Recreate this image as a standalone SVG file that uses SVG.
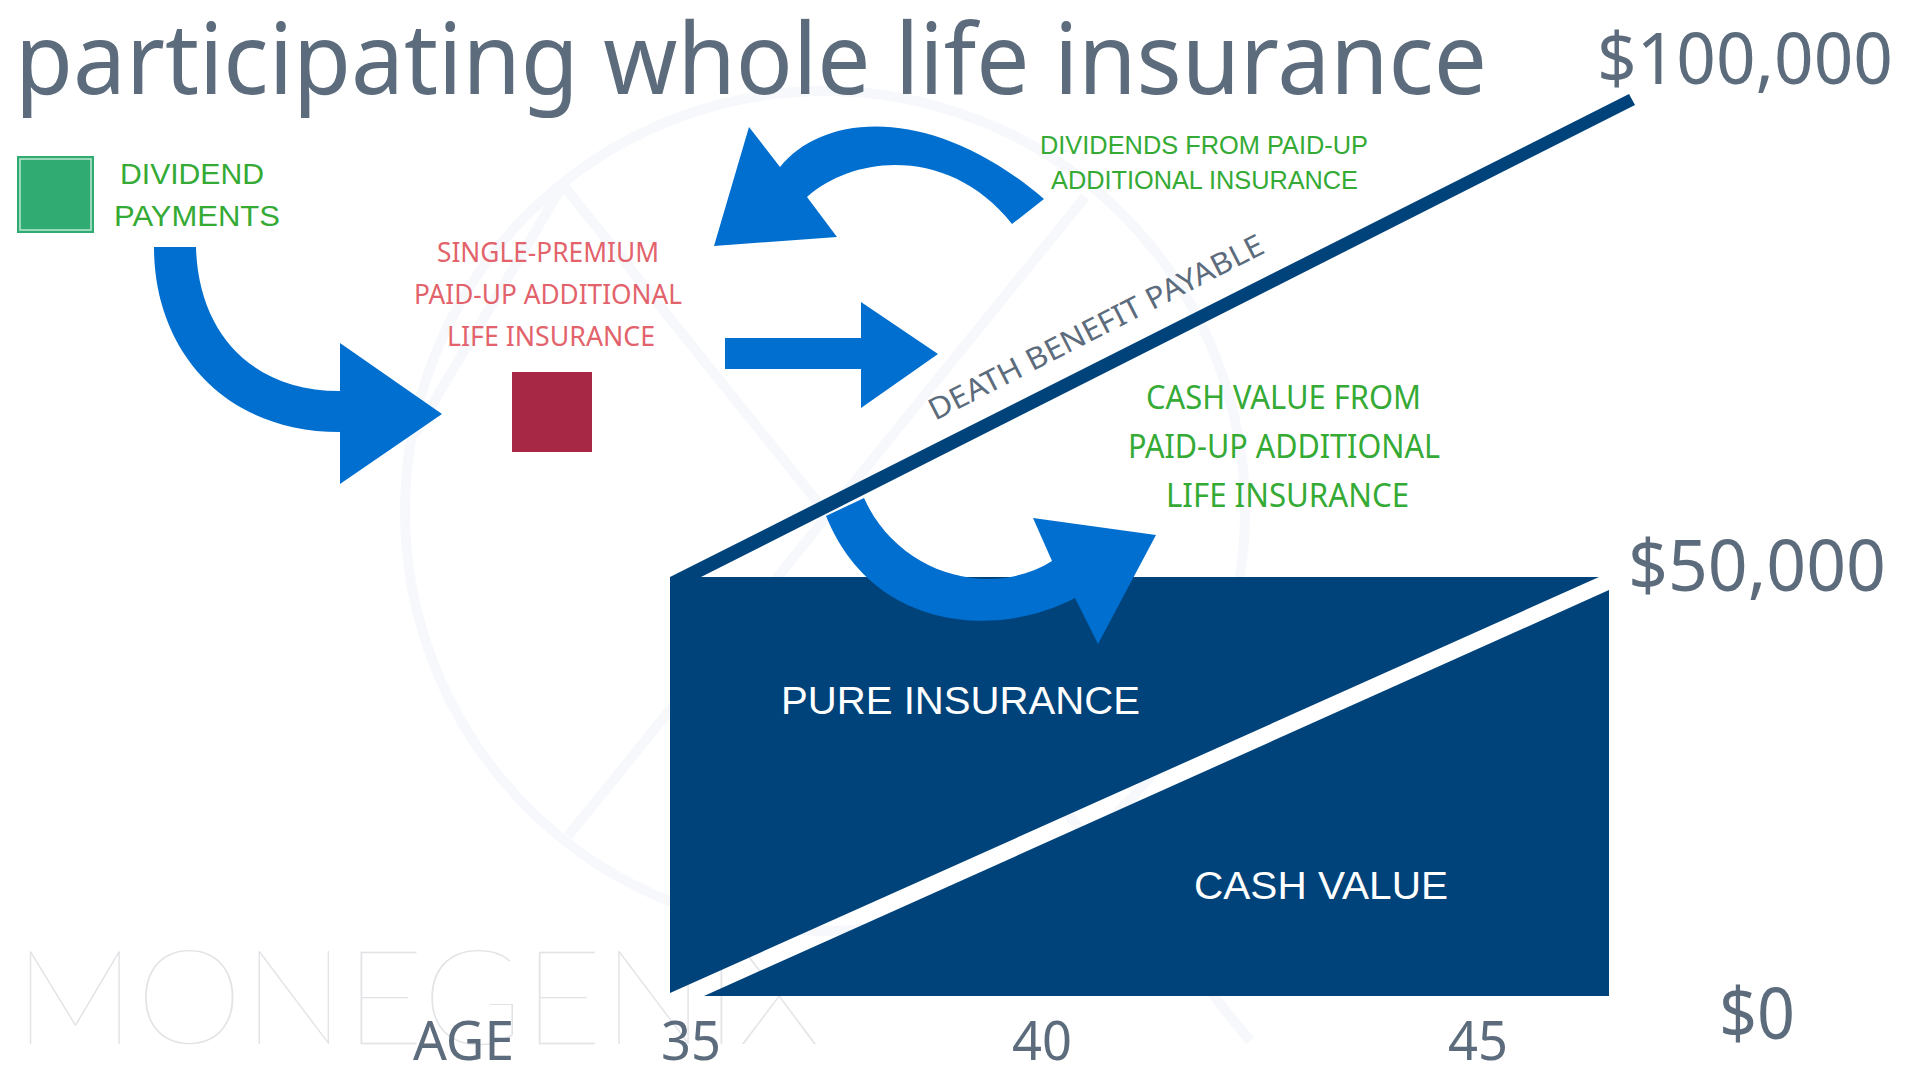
<svg xmlns="http://www.w3.org/2000/svg" width="1920" height="1080" viewBox="0 0 1920 1080">
<style>
.wm{fill:none;stroke:#f6f8fc;stroke-width:10}
.gray{font-family:"Noto Sans","Liberation Sans",sans-serif;font-weight:400;fill:#5c6c7c}
.arial{font-family:"Liberation Sans",Arial,sans-serif}
.green{fill:#35aa35}
.red{font-family:"Noto Sans","Liberation Sans",sans-serif;font-size:28px;fill:#e2636b;font-weight:400}
.src{font-family:"Noto Sans","Liberation Sans",sans-serif;font-size:32px;font-weight:400}
.white{fill:#fff;font-size:39px}
.dark{fill:#00437a}
.arrow{fill:#006fcf}
</style>
<rect width="1920" height="1080" fill="#fff"/>
<g id="watermark">
<circle class="wm" cx="825" cy="511" r="420"/>
<path class="wm" d="M563 185L1250 1041M568 836L1085 197M563 185L414 435"/>
<text x="14" y="1044" font-family="Lato,sans-serif" font-weight="100" font-size="132" fill="#e2e3e6" textLength="806" lengthAdjust="spacingAndGlyphs">MONEGENIX</text>
</g>
<text id="title" class="gray" x="15" y="94" font-size="98" textLength="1472" lengthAdjust="spacingAndGlyphs">participating whole life insurance</text>
<g id="chart">
<path class="dark" d="M670 577L1629 94L1635 105L701 577Z"/>
<path class="dark" d="M670 577H1599L670 993Z"/>
<path class="dark" d="M704 996L1609 590V996Z"/>
<text class="arial white" x="781" y="714" textLength="359" lengthAdjust="spacingAndGlyphs">PURE INSURANCE</text>
<text class="arial white" x="1194" y="899" textLength="254" lengthAdjust="spacingAndGlyphs">CASH VALUE</text>
<text class="gray" x="935" y="421" font-size="30" textLength="372" lengthAdjust="spacingAndGlyphs" transform="rotate(-27 935 421)">DEATH BENEFIT PAYABLE</text>
</g>
<g id="axis">
<text class="gray" x="1597" y="84" font-size="71" textLength="296" lengthAdjust="spacingAndGlyphs">$100,000</text>
<text class="gray" x="1628" y="591" font-size="71" textLength="258" lengthAdjust="spacingAndGlyphs">$50,000</text>
<text class="gray" x="1719" y="1039" font-size="71" textLength="76" lengthAdjust="spacingAndGlyphs">$0</text>
<text class="gray" x="413" y="1060" font-size="54" textLength="101" lengthAdjust="spacingAndGlyphs">AGE</text>
<text class="gray" x="661" y="1060" font-size="54" textLength="60" lengthAdjust="spacingAndGlyphs">35</text>
<text class="gray" x="1012" y="1060" font-size="54" textLength="60" lengthAdjust="spacingAndGlyphs">40</text>
<text class="gray" x="1448" y="1060" font-size="54" textLength="60" lengthAdjust="spacingAndGlyphs">45</text>
</g>
<g id="dividend-payments">
<rect x="17" y="156" width="77" height="77" fill="#30ac72"/>
<rect x="20" y="159" width="71" height="71" fill="none" stroke="#bfe6d2" stroke-width="1.5"/>
<text class="arial green" x="120" y="184" font-size="29" textLength="144" lengthAdjust="spacingAndGlyphs">DIVIDEND</text>
<text class="arial green" x="114" y="226" font-size="29" textLength="166" lengthAdjust="spacingAndGlyphs">PAYMENTS</text>
</g>
<g id="single-premium">
<rect x="512" y="372" width="80" height="80" fill="#a62845"/>
<text class="red" x="437" y="262" textLength="222" lengthAdjust="spacingAndGlyphs">SINGLE-PREMIUM</text>
<text class="red" x="414" y="304" textLength="268" lengthAdjust="spacingAndGlyphs">PAID-UP ADDITIONAL</text>
<text class="red" x="447" y="346" textLength="208" lengthAdjust="spacingAndGlyphs">LIFE INSURANCE</text>
</g>
<g id="dividends-paid-up">
<text class="arial green" x="1040" y="154" font-size="25" textLength="328" lengthAdjust="spacingAndGlyphs">DIVIDENDS FROM PAID-UP</text>
<text class="arial green" x="1051" y="189" font-size="25" textLength="307" lengthAdjust="spacingAndGlyphs">ADDITIONAL INSURANCE</text>
</g>
<g id="cash-value-paid-up">
<text class="src green" x="1146" y="409" textLength="275" lengthAdjust="spacingAndGlyphs">CASH VALUE FROM</text>
<text class="src green" x="1128" y="458" textLength="312" lengthAdjust="spacingAndGlyphs">PAID-UP ADDITIONAL</text>
<text class="src green" x="1166" y="507" textLength="243" lengthAdjust="spacingAndGlyphs">LIFE INSURANCE</text>
</g>
<g id="connectors">
<path class="arrow" d="M154 247H196C198 329 248 391 340 391V343L442 414L340 484V432C223 432 154 349 154 247Z"/>
<path class="arrow" d="M714 246L749 127L780 167C823 113 932 103 1044 199L1012 224C952 148 857 153 807 197L837 237Z"/>
<path class="arrow" d="M725 338H861V302L938 354L861 408V369H725Z"/>
<path class="arrow" d="M826 516L864 498C898 574 990 600 1052 561L1033 518L1156 535L1098 644L1075 598C995 640 872 630 826 516Z"/>
</g>
</svg>
